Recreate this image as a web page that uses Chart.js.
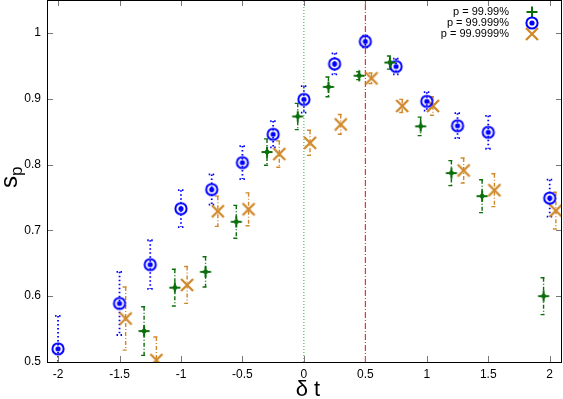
<!DOCTYPE html>
<html>
<head>
<meta charset="utf-8">
<script src="https://cdn.jsdelivr.net/npm/chart.js@4"></script>
<style>
	body { margin: 0; background: #fff; }
	#sp-chart { display: block; }
</style>
</head>
<body>
<canvas id="sp-chart" width="563" height="399"></canvas>
<script>
// values
var xTicks = [-2, -1.5, -1, -0.5, 0, 0.5, 1, 1.5, 2],
		yTicks = [0.5, 0.6, 0.7, 0.8, 0.9, 1];

var greenLabel = 'p = 99.99%',
		greenX = [-1.3, -1.05, -0.8, -0.55, -0.3, -0.05, 0.2, 0.45, 0.7, 0.95, 1.2, 1.45, 1.95],
		greenY = [0.547, 0.613, 0.637, 0.713, 0.819, 0.873, 0.918, 0.935, 0.955, 0.858, 0.787, 0.752, 0.6],
		greenErr = [0.037, 0.028, 0.023, 0.025, 0.02, 0.02, 0.015, 0.006, 0.01, 0.014, 0.019, 0.025, 0.028];

var blueLabel = 'p = 99.999%',
		blueX = [-2, -1.5, -1.25, -1, -0.75, -0.5, -0.25, 0, 0.25, 0.5, 0.75, 1, 1.25, 1.5, 2],
		blueY = [0.52, 0.589, 0.648, 0.733, 0.762, 0.803, 0.846, 0.899, 0.953, 0.987, 0.949, 0.896, 0.859, 0.849, 0.749],
		blueErr = [0.05, 0.048, 0.037, 0.028, 0.023, 0.025, 0.02, 0.02, 0.016, 0.009, 0.012, 0.014, 0.019, 0.025, 0.028];

var orangeLabel = 'p = 99.9999%',
		orangeX = [-1.45, -1.2, -0.95, -0.7, -0.45, -0.2, 0.05, 0.3, 0.55, 0.8, 1.05, 1.3, 1.55, 2.05],
		orangeY = [0.566, 0.503, 0.617, 0.729, 0.732, 0.816, 0.833, 0.861, 0.931, 0.889, 0.889, 0.791, 0.761, 0.73],
		orangeErr = [0.048, 0.035, 0.028, 0.023, 0.025, 0.02, 0.019, 0.015, 0.008, 0.01, 0.014, 0.019, 0.025, 0.028];

var markLines = [0, 0.5];

var GREEN = '#0b6e0b',
		BLUE = '#0000ff',
		ORANGE = '#d0882a',
		FONT = '"Liberation Sans", Arial, sans-serif';

// little canvases used as point styles
function marker(kind, color, withDot) {
	var c = document.createElement('canvas');
	c.width = 16; c.height = 16;
	var g = c.getContext('2d');
	g.strokeStyle = color;
	g.fillStyle = color;
	g.lineWidth = 2;
	g.beginPath();
	if (kind === 'ring') {
		g.arc(8, 8, 5.6, 0, Math.PI * 2);
	} else if (kind === 'plus') {
		g.moveTo(8, 2.5); g.lineTo(8, 13.5);
		g.moveTo(2.5, 8); g.lineTo(13.5, 8);
	} else {
		g.lineWidth = 2.3;
		g.moveTo(2, 2); g.lineTo(14, 14);
		g.moveTo(14, 2); g.lineTo(2, 14);
	}
	g.stroke();
	if (withDot) {
		g.beginPath();
		g.arc(8, 8, kind === 'ring' ? 2.6 : 2.4, 0, Math.PI * 2);
		g.fill();
	}
	return c;
}

function toPoints(xs, ys) {
	return xs.map(function(x, i) { return {x: x, y: ys[i]}; });
}

var series = [
	{label: greenLabel, x: greenX, y: greenY, err: greenErr, color: GREEN, dash: [4, 2, 1, 2], width: 1.4,
		point: marker('plus', GREEN, true), key: marker('plus', GREEN, false)},
	{label: blueLabel, x: blueX, y: blueY, err: blueErr, color: BLUE, dash: [1.5, 2.5], width: 1.8,
		point: marker('ring', BLUE, true), key: marker('ring', BLUE, true)},
	{label: orangeLabel, x: orangeX, y: orangeY, err: orangeErr, color: ORANGE, dash: [4, 2, 1, 2], width: 1.4,
		point: marker('cross', ORANGE, false), key: marker('cross', ORANGE, false)}
];

var datasets = series.map(function(s) {
	return {
		label: s.label,
		data: toPoints(s.x, s.y),
		errors: s.err,
		barColor: s.color,
		barDash: s.dash,
		barWidth: s.width,
		keyStyle: s.key,
		pointStyle: s.point,
		pointRadius: 8,
		order: 1
	};
});

// the two vertical reference lines
datasets.push({
	type: 'line', label: 'x0', data: [{x: markLines[0], y: 0.5}, {x: markLines[0], y: 1.05}],
	borderColor: '#22b022', borderWidth: 1, borderDash: [1, 2], pointRadius: 0, order: 5
});
datasets.push({
	type: 'line', label: 'x05', data: [{x: markLines[1], y: 0.5}, {x: markLines[1], y: 1.05}],
	borderColor: '#ff0000', borderWidth: 1, borderDash: [6, 2, 1, 2], pointRadius: 0, order: 5
});

// error bars with small caps, drawn under the markers
var errorBars = {
	id: 'errorBars',
	beforeDatasetsDraw: function(chart) {
		var ctx = chart.ctx, xs = chart.scales.x, ys = chart.scales.y, area = chart.chartArea;
		ctx.save();
		ctx.beginPath();
		ctx.rect(area.left, area.top, area.right - area.left, area.bottom - area.top);
		ctx.clip();
		chart.data.datasets.forEach(function(ds) {
			if (!ds.errors) return;
			ctx.strokeStyle = ds.barColor;
			ctx.lineWidth = ds.barWidth;
			ctx.setLineDash(ds.barDash);
			ds.data.forEach(function(p, i) {
				var px = xs.getPixelForValue(p.x),
						top = ys.getPixelForValue(p.y + ds.errors[i]),
						bot = ys.getPixelForValue(p.y - ds.errors[i]);
				ctx.beginPath();
				ctx.moveTo(px, top); ctx.lineTo(px, bot);
				ctx.moveTo(px - 3, top); ctx.lineTo(px + 3, top);
				ctx.moveTo(px - 3, bot); ctx.lineTo(px + 3, bot);
				ctx.stroke();
			});
		});
		ctx.restore();
	}
};

// frame, inward ticks, axis titles and the key
var frame = {
	id: 'frame',
	afterDraw: function(chart) {
		var ctx = chart.ctx, a = chart.chartArea, xs = chart.scales.x, ys = chart.scales.y;
		ctx.save();
		ctx.strokeStyle = '#777';
		ctx.lineWidth = 1;
		ctx.beginPath();
		xTicks.forEach(function(v) {
			var px = Math.round(xs.getPixelForValue(v)) + 0.5;
			ctx.moveTo(px, a.bottom); ctx.lineTo(px, a.bottom - 6);
			ctx.moveTo(px, a.top); ctx.lineTo(px, a.top + 6);
		});
		yTicks.forEach(function(v) {
			var py = Math.round(ys.getPixelForValue(v)) + 0.5;
			ctx.moveTo(a.left, py); ctx.lineTo(a.left + 6, py);
			ctx.moveTo(a.right, py); ctx.lineTo(a.right - 6, py);
		});
		ctx.stroke();

		ctx.strokeStyle = '#000';
		ctx.strokeRect(a.left + 0.5, a.top + 0.5, a.right - a.left - 1, a.bottom - a.top);

		// x title
		ctx.fillStyle = '#000';
		ctx.font = '22px ' + FONT;
		ctx.textAlign = 'center';
		ctx.textBaseline = 'alphabetic';
		ctx.fillText('\u03b4 t', 308, 396);

		// y title s_p, turned on its side
		ctx.save();
		ctx.translate(17, 188);
		ctx.rotate(-Math.PI / 2);
		ctx.textAlign = 'left';
		ctx.font = '24px ' + FONT;
		ctx.fillText('s', 0, 0);
		var w = ctx.measureText('s').width;
		ctx.font = '17px ' + FONT;
		ctx.fillText('p', w, 5);
		ctx.restore();

		// key in the top right corner
		ctx.font = '11px ' + FONT;
		ctx.textAlign = 'right';
		ctx.textBaseline = 'middle';
		chart.data.datasets.forEach(function(ds, i) {
			if (!ds.keyStyle) return;
			var y = 12 + i * 11;
			ctx.fillStyle = '#000';
			ctx.fillText(ds.label, 509, y);
			ctx.drawImage(ds.keyStyle, 532 - 8, y - 8);
		});
		ctx.restore();
	}
};

// pin the plot box: drop the extra room Chart.js keeps for end labels
function noPad(s) {
	s.paddingTop = 0; s.paddingBottom = 0; s.paddingLeft = 0; s.paddingRight = 0;
}

var ctx = document.getElementById('sp-chart').getContext('2d'),
		spChart = new Chart(ctx, {
			type: 'scatter',
			data: {datasets: datasets},
			options: {
				responsive: false,
				animation: false,
				devicePixelRatio: 1,
				layout: {autoPadding: false, padding: {top: 0, right: 1, left: 0, bottom: 0}},
				plugins: {legend: {display: false}, tooltip: {enabled: false}},
				scales: {
					x: {
						type: 'linear', min: -2.09, max: 2.1,
						grid: {display: false, drawTicks: false},
						border: {display: false},
						afterBuildTicks: function(s) { s.ticks = xTicks.map(function(v) { return {value: v}; }); },
						afterFit: function(s) { s.height = 37; noPad(s); },
						ticks: {
							padding: 5, color: '#000', maxRotation: 0,
							font: {family: FONT, size: 12},
							callback: function(v) { return String(v); }
						}
					},
					y: {
						type: 'linear', min: 0.5, max: 1.05,
						grid: {display: false, drawTicks: false},
						border: {display: false},
						afterBuildTicks: function(s) { s.ticks = yTicks.map(function(v) { return {value: v}; }); },
						afterFit: function(s) { s.width = 47; noPad(s); },
						ticks: {
							padding: 6, color: '#000',
							font: {family: FONT, size: 12},
							callback: function(v) { return String(+v.toFixed(1)); }
						}
					}
				}
			},
			plugins: [errorBars, frame]
		});
</script>
</body>
</html>
